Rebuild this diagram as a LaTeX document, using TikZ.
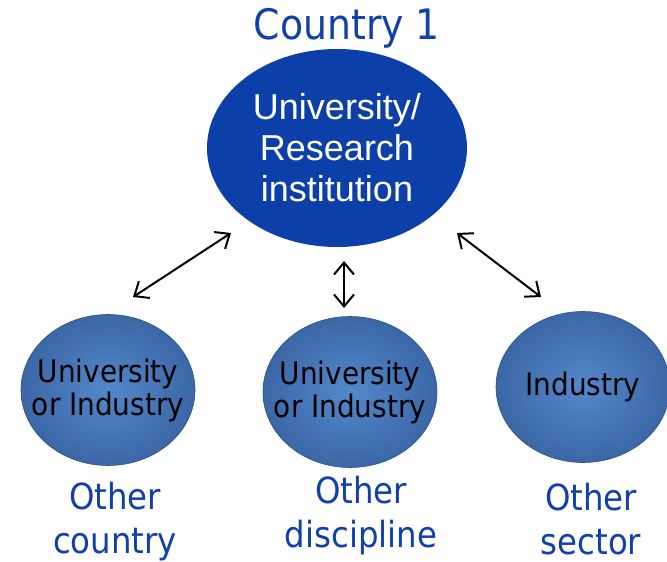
\documentclass[tikz,border=0pt]{standalone}
\usepackage{fontspec}
\setmainfont{Liberation Sans}
\newfontfamily\tahoma{DejaVu Sans Condensed}
\usetikzlibrary{shapes.geometric,arrows.meta}
\definecolor{mainblue}{HTML}{0D3FA8}
\definecolor{labelblue}{HTML}{1040A8}
\definecolor{ballin}{HTML}{5388CB}
\definecolor{ballout}{HTML}{3B67A6}
\tikzset{
  mainell/.style={ellipse, fill=mainblue, text=white, minimum width=260pt, minimum height=198pt, inner sep=0pt, align=center, font=\fontsize{36}{41}\selectfont},
  ball/.style={ellipse, inner color=ballin, outer color=ballout, draw=ballout!80!black, line width=0.6pt, minimum width=174pt, minimum height=151pt, inner sep=-40pt, align=center, text=black, font=\tahoma\fontsize{31}{33}\selectfont},
  bluelab/.style={text=labelblue, align=center, font=\tahoma\fontsize{36}{44}\selectfont, inner sep=0pt},
  link/.style={line width=2pt, {Straight Barb[length=12pt,width=20pt]}-{Straight Barb[length=12pt,width=20pt]}}
}
\begin{document}
\begin{tikzpicture}[x=1pt,y=-1pt]
\useasboundingbox (0,0) rectangle (667,562);
\node[bluelab, font=\tahoma\fontsize{42}{48}\selectfont] (title) at (347,28) {Country 1};
\node[mainell] (main) at (337,148) {University/\\Research\\institution};
\node[ball] (b1) at (108,390) {University\\or Industry};
\node[ball] (b2) at (350,392) {University\\or Industry};
\node[ball] (b3) at (583,387) {Industry};
\node[bluelab] (l1) at (115,522) {Other\\country};
\node[bluelab] (l2) at (361,516) {Other\\discipline};
\node[bluelab] (l3) at (591,519) {Other\\sector};
\coordinate (a1s) at (231,233);
\coordinate (a1e) at (133,297);
\coordinate (a2s) at (344,261);
\coordinate (a2e) at (344,308);
\coordinate (a3s) at (457,233);
\coordinate (a3e) at (541,297);
\draw[link] (a1s) -- (a1e);
\draw[link] (a2s) -- (a2e);
\draw[link] (a3s) -- (a3e);
\end{tikzpicture}
\end{document}
